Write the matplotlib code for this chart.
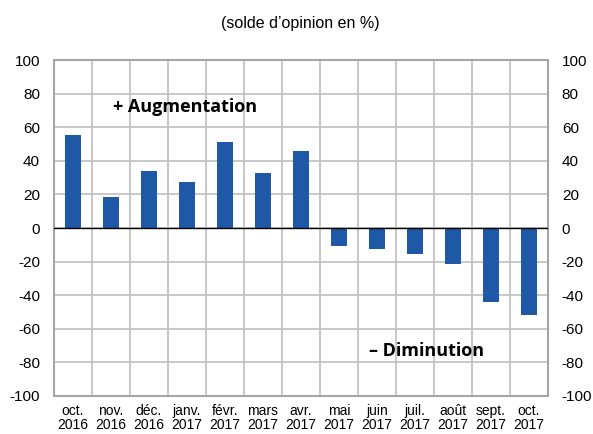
import matplotlib

matplotlib.use("Agg")
import matplotlib.pyplot as plt
import numpy as np

MONTHS = ["oct.", "nov.", "déc.", "janv.", "févr.", "mars", "avr.",
          "mai", "juin", "juil.", "août", "sept.", "oct."]
YEARS = ["2016", "2016", "2016", "2017", "2017", "2017", "2017",
         "2017", "2017", "2017", "2017", "2017", "2017"]
SOLDE = [55.3, 18.2, 33.8, 27.5, 51.2, 32.8, 45.8,
         -11.0, -12.6, -15.5, -21.6, -43.9, -52.0]
Y_TICKS = [-100, -80, -60, -40, -20, 0, 20, 40, 60, 80, 100]

BAR_COLOR = "#1F58A6"
GRID_COLOR = "#BFBFBF"

plt.rcParams["font.family"] = ["Liberation Sans", "DejaVu Sans"]
plt.rcParams["axes.unicode_minus"] = False

fig = plt.figure(figsize=(5.93, 4.34), dpi=100)
ax = fig.add_axes((0.091, 0.0876, 0.833, 0.774))

x = np.arange(len(SOLDE))
ax.bar(x, SOLDE, width=0.4, color=BAR_COLOR, zorder=3)

ax.set_xlim(-0.5, len(SOLDE) - 0.5)
ax.set_ylim(-100, 100)
ax.set_yticks(Y_TICKS)
ax.set_xticks(x)
ax.set_xticklabels([f"{m}\n{y}" for m, y in zip(MONTHS, YEARS)], fontsize=10, linespacing=1.0)
ax.set_xticks(np.arange(len(SOLDE) + 1) - 0.5, minor=True)

ax.grid(True, axis="y", color=GRID_COLOR, linewidth=1.2, zorder=0)
ax.grid(True, axis="x", which="minor", color=GRID_COLOR, linewidth=1.2, zorder=0)
ax.axhline(0, color="black", linewidth=1.0, zorder=4)

ax.tick_params(axis="both", which="both", length=0, labelsize=11)
ax.tick_params(axis="y", pad=10)
ax.tick_params(axis="y", labelright=True, right=False)
ax.tick_params(axis="x", labelsize=10, pad=6)
for spine in ax.spines.values():
    spine.set_color("#A6A6A6")
    spine.set_linewidth(1.5)

ax.text(2.95, 72, "+ Augmentation", ha="center", va="center",
        fontsize=13, fontweight="bold", family=["Open Sans", "DejaVu Sans"], zorder=5)
ax.text(9.3, -73, "– Diminution", ha="center", va="center",
        fontsize=13, fontweight="bold", family=["Open Sans", "DejaVu Sans"], zorder=5)

fig.text(0.506, 0.946, "(solde d’opinion en %)", ha="center", va="center", fontsize=11.5)

fig.savefig("out.png", dpi=100)
